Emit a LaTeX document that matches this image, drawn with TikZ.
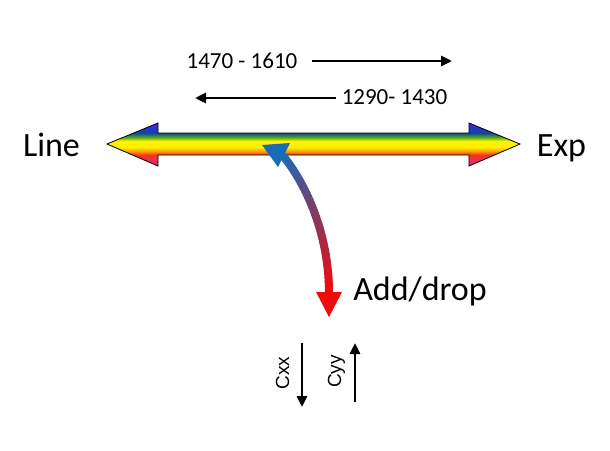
\documentclass[tikz,border=0pt]{standalone}
\usepackage{fontspec}
\setmainfont{Carlito}
\newfontfamily\axisfont{Liberation Sans}
\usepackage{tikz}
\usetikzlibrary{arrows.meta}

\definecolor{pinkend}{rgb}{0.90,0.15,0.55}
\definecolor{barred}{rgb}{0.95,0.20,0.12}
\definecolor{barorange}{rgb}{1.00,0.60,0.00}
\definecolor{baryellow}{rgb}{1.00,0.95,0.00}
\definecolor{bargreen}{rgb}{0.30,0.65,0.10}
\definecolor{barblue}{rgb}{0.05,0.28,0.62}
\definecolor{violetend}{rgb}{0.30,0.10,1.00}
\definecolor{arrowblue}{rgb}{0.10,0.42,0.72}
\definecolor{dropred}{rgb}{0.94,0.04,0.04}

\pgfdeclareverticalshading{rainbowbar}{100bp}{color(0bp)=(pinkend); color(25bp)=(pinkend); color(37.8bp)=(barred); color(42bp)=(barorange); color(47bp)=(baryellow); color(54bp)=(baryellow); color(58.5bp)=(bargreen); color(63.4bp)=(barblue); color(75bp)=(violetend); color(100bp)=(violetend)}

\begin{document}
\begin{tikzpicture}[x=1pt, y=-1pt,
  biglabel/.style={font=\fontsize{34pt}{40pt}\selectfont, inner sep=0pt},
  rangelabel/.style={font=\fontsize{23pt}{27pt}\selectfont, inner xsep=6pt},
  axislabel/.style={font=\axisfont\fontsize{19pt}{22pt}\selectfont, inner sep=0pt},
  rangearrow/.style={line width=2.7pt, -{Triangle[length=11pt,width=10pt]}}]
\useasboundingbox (0,0) rectangle (610,450);

% rainbow double arrow
\path[shade, shading=rainbowbar, draw=black, line width=0.8pt] (107,144) -- (158,123) -- (158,133) -- (469,133) -- (469,123) -- (520,144) -- (469,166) -- (469,155) -- (158,155) -- (158,166) -- cycle;

\node[biglabel, anchor=base] (linelbl) at (51.5,156) {Line};
\node[biglabel, anchor=base] (explbl) at (561.5,156) {Exp};

% wavelength ranges
\node[rangelabel, anchor=base] (uplbl) at (242,68) {1470 - 1610};
\node[rangelabel, anchor=base] (downlbl) at (394.5,104.5) {1290- 1430};
\coordinate (upend) at (452,61);
\coordinate (downend) at (195,98);
\draw[rangearrow, shorten <=8pt] (uplbl.east |- upend) -- (upend);
\draw[rangearrow] (downlbl.west |- downend) -- (downend);

% add/drop curved arrow
\coordinate (bluebase) at (284,157);
\coordinate (redbase) at (329,293);
\foreach \i in {0,...,40}{
  \pgfmathsetmacro\t{\i/40}
  \path (bluebase) .. controls (310,190) and (329,240) .. (redbase) coordinate[pos=\t] (bend\i);
}
\foreach \i [evaluate=\i as \j using int(\i+1), evaluate=\i as \p using 2.5*\i] in {0,...,39}
  \draw[line width=8pt, line cap=round, dropred!\p!arrowblue] (bend\i) -- (bend\j);
\fill[arrowblue] (262,145) -- (290,143) -- (278,167) -- cycle;
\fill[dropred] (316,292) -- (342,292) -- (329,317) -- cycle;

\node[biglabel, anchor=base] (droplbl) at (420,300) {Add/drop};

% Cxx / Cyy
\node[axislabel, rotate=90, anchor=base] (cxxlbl) at (289,373) {Cxx};
\node[axislabel, rotate=90, anchor=base] (cyylbl) at (341,371.5) {Cyy};
\coordinate (cxxtop) at (302,343);
\coordinate (cxxbot) at (302,407);
\coordinate (cyybot) at (355,402);
\coordinate (cyytop) at (355,343);
\draw[rangearrow] (cxxtop) -- (cxxbot);
\draw[rangearrow] (cyybot) -- (cyytop);
\end{tikzpicture}
\end{document}
